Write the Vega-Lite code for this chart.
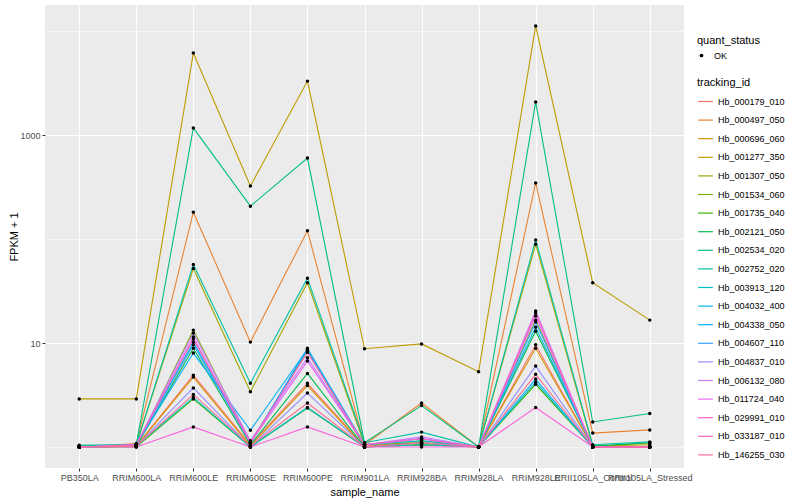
{
  "$schema": "https://vega.github.io/schema/vega-lite/v6.json",
  "autosize": {"type": "none"},
  "padding": {"left": 45, "top": 5, "right": 116, "bottom": 32},
  "width": 639,
  "height": 463,
  "background": "white",
  "config": {
    "font": "Liberation Sans",
    "view": {"fill": "#EBEBEB", "stroke": null},
    "axis": {
      "domain": false,
      "gridColor": "white",
      "tickColor": "#333333",
      "tickSize": 3,
      "labelColor": "#4D4D4D",
      "labelFontSize": 9,
      "labelFont": "Liberation Sans",
      "titleFont": "Liberation Sans",
      "titleFontSize": 11,
      "titleFontWeight": "normal",
      "titleColor": "black",
      "labelPadding": 2
    },
    "legend": {
      "titleFont": "Liberation Sans",
      "labelFont": "Liberation Sans",
      "titleFontSize": 11,
      "titleFontWeight": "normal",
      "titleColor": "black",
      "labelFontSize": 9,
      "labelColor": "black"
    }
  },
  "data": {"values": [
    {"id":"Hb_000179_010","sample":"PB350LA","fpkm":1.0,"status":"OK"},
    {"id":"Hb_000179_010","sample":"RRIM600LA","fpkm":1.02,"status":"OK"},
    {"id":"Hb_000179_010","sample":"RRIM600LE","fpkm":4.9,"status":"OK"},
    {"id":"Hb_000179_010","sample":"RRIM600SE","fpkm":1.05,"status":"OK"},
    {"id":"Hb_000179_010","sample":"RRIM600PE","fpkm":4.1,"status":"OK"},
    {"id":"Hb_000179_010","sample":"RRIM901LA","fpkm":1.02,"status":"OK"},
    {"id":"Hb_000179_010","sample":"RRIM928BA","fpkm":1.1,"status":"OK"},
    {"id":"Hb_000179_010","sample":"RRIM928LA","fpkm":1.0,"status":"OK"},
    {"id":"Hb_000179_010","sample":"RRIM928LE","fpkm":9.6,"status":"OK"},
    {"id":"Hb_000179_010","sample":"RRII105LA_Control","fpkm":1.0,"status":"OK"},
    {"id":"Hb_000179_010","sample":"RRII105LA_Stressed","fpkm":1.0,"status":"OK"},

    {"id":"Hb_000497_050","sample":"PB350LA","fpkm":1.0,"status":"OK"},
    {"id":"Hb_000497_050","sample":"RRIM600LA","fpkm":1.08,"status":"OK"},
    {"id":"Hb_000497_050","sample":"RRIM600LE","fpkm":181,"status":"OK"},
    {"id":"Hb_000497_050","sample":"RRIM600SE","fpkm":10.2,"status":"OK"},
    {"id":"Hb_000497_050","sample":"RRIM600PE","fpkm":120,"status":"OK"},
    {"id":"Hb_000497_050","sample":"RRIM901LA","fpkm":1.05,"status":"OK"},
    {"id":"Hb_000497_050","sample":"RRIM928BA","fpkm":2.65,"status":"OK"},
    {"id":"Hb_000497_050","sample":"RRIM928LA","fpkm":1.0,"status":"OK"},
    {"id":"Hb_000497_050","sample":"RRIM928LE","fpkm":346,"status":"OK"},
    {"id":"Hb_000497_050","sample":"RRII105LA_Control","fpkm":1.36,"status":"OK"},
    {"id":"Hb_000497_050","sample":"RRII105LA_Stressed","fpkm":1.46,"status":"OK"},

    {"id":"Hb_000696_060","sample":"PB350LA","fpkm":1.0,"status":"OK"},
    {"id":"Hb_000696_060","sample":"RRIM600LA","fpkm":1.02,"status":"OK"},
    {"id":"Hb_000696_060","sample":"RRIM600LE","fpkm":4.7,"status":"OK"},
    {"id":"Hb_000696_060","sample":"RRIM600SE","fpkm":1.02,"status":"OK"},
    {"id":"Hb_000696_060","sample":"RRIM600PE","fpkm":3.9,"status":"OK"},
    {"id":"Hb_000696_060","sample":"RRIM901LA","fpkm":1.0,"status":"OK"},
    {"id":"Hb_000696_060","sample":"RRIM928BA","fpkm":1.05,"status":"OK"},
    {"id":"Hb_000696_060","sample":"RRIM928LA","fpkm":1.0,"status":"OK"},
    {"id":"Hb_000696_060","sample":"RRIM928LE","fpkm":8.9,"status":"OK"},
    {"id":"Hb_000696_060","sample":"RRII105LA_Control","fpkm":1.0,"status":"OK"},
    {"id":"Hb_000696_060","sample":"RRII105LA_Stressed","fpkm":1.1,"status":"OK"},

    {"id":"Hb_001277_350","sample":"PB350LA","fpkm":2.9,"status":"OK"},
    {"id":"Hb_001277_350","sample":"RRIM600LA","fpkm":2.9,"status":"OK"},
    {"id":"Hb_001277_350","sample":"RRIM600LE","fpkm":6150,"status":"OK"},
    {"id":"Hb_001277_350","sample":"RRIM600SE","fpkm":324,"status":"OK"},
    {"id":"Hb_001277_350","sample":"RRIM600PE","fpkm":3300,"status":"OK"},
    {"id":"Hb_001277_350","sample":"RRIM901LA","fpkm":8.8,"status":"OK"},
    {"id":"Hb_001277_350","sample":"RRIM928BA","fpkm":9.8,"status":"OK"},
    {"id":"Hb_001277_350","sample":"RRIM928LA","fpkm":5.3,"status":"OK"},
    {"id":"Hb_001277_350","sample":"RRIM928LE","fpkm":11200,"status":"OK"},
    {"id":"Hb_001277_350","sample":"RRII105LA_Control","fpkm":38,"status":"OK"},
    {"id":"Hb_001277_350","sample":"RRII105LA_Stressed","fpkm":16.6,"status":"OK"},

    {"id":"Hb_001307_050","sample":"PB350LA","fpkm":1.0,"status":"OK"},
    {"id":"Hb_001307_050","sample":"RRIM600LA","fpkm":1.05,"status":"OK"},
    {"id":"Hb_001307_050","sample":"RRIM600LE","fpkm":52,"status":"OK"},
    {"id":"Hb_001307_050","sample":"RRIM600SE","fpkm":3.4,"status":"OK"},
    {"id":"Hb_001307_050","sample":"RRIM600PE","fpkm":38,"status":"OK"},
    {"id":"Hb_001307_050","sample":"RRIM901LA","fpkm":1.05,"status":"OK"},
    {"id":"Hb_001307_050","sample":"RRIM928BA","fpkm":1.1,"status":"OK"},
    {"id":"Hb_001307_050","sample":"RRIM928LA","fpkm":1.0,"status":"OK"},
    {"id":"Hb_001307_050","sample":"RRIM928LE","fpkm":89,"status":"OK"},
    {"id":"Hb_001307_050","sample":"RRII105LA_Control","fpkm":1.02,"status":"OK"},
    {"id":"Hb_001307_050","sample":"RRII105LA_Stressed","fpkm":1.05,"status":"OK"},

    {"id":"Hb_001534_060","sample":"PB350LA","fpkm":1.0,"status":"OK"},
    {"id":"Hb_001534_060","sample":"RRIM600LA","fpkm":1.02,"status":"OK"},
    {"id":"Hb_001534_060","sample":"RRIM600LE","fpkm":13.3,"status":"OK"},
    {"id":"Hb_001534_060","sample":"RRIM600SE","fpkm":1.1,"status":"OK"},
    {"id":"Hb_001534_060","sample":"RRIM600PE","fpkm":8.4,"status":"OK"},
    {"id":"Hb_001534_060","sample":"RRIM901LA","fpkm":1.0,"status":"OK"},
    {"id":"Hb_001534_060","sample":"RRIM928BA","fpkm":1.15,"status":"OK"},
    {"id":"Hb_001534_060","sample":"RRIM928LA","fpkm":1.0,"status":"OK"},
    {"id":"Hb_001534_060","sample":"RRIM928LE","fpkm":16.6,"status":"OK"},
    {"id":"Hb_001534_060","sample":"RRII105LA_Control","fpkm":1.0,"status":"OK"},
    {"id":"Hb_001534_060","sample":"RRII105LA_Stressed","fpkm":1.0,"status":"OK"},

    {"id":"Hb_001735_040","sample":"PB350LA","fpkm":1.0,"status":"OK"},
    {"id":"Hb_001735_040","sample":"RRIM600LA","fpkm":1.0,"status":"OK"},
    {"id":"Hb_001735_040","sample":"RRIM600LE","fpkm":2.9,"status":"OK"},
    {"id":"Hb_001735_040","sample":"RRIM600SE","fpkm":1.0,"status":"OK"},
    {"id":"Hb_001735_040","sample":"RRIM600PE","fpkm":2.37,"status":"OK"},
    {"id":"Hb_001735_040","sample":"RRIM901LA","fpkm":1.0,"status":"OK"},
    {"id":"Hb_001735_040","sample":"RRIM928BA","fpkm":1.05,"status":"OK"},
    {"id":"Hb_001735_040","sample":"RRIM928LA","fpkm":1.0,"status":"OK"},
    {"id":"Hb_001735_040","sample":"RRIM928LE","fpkm":4.0,"status":"OK"},
    {"id":"Hb_001735_040","sample":"RRII105LA_Control","fpkm":1.0,"status":"OK"},
    {"id":"Hb_001735_040","sample":"RRII105LA_Stressed","fpkm":1.0,"status":"OK"},

    {"id":"Hb_002121_050","sample":"PB350LA","fpkm":1.0,"status":"OK"},
    {"id":"Hb_002121_050","sample":"RRIM600LA","fpkm":1.02,"status":"OK"},
    {"id":"Hb_002121_050","sample":"RRIM600LE","fpkm":8.9,"status":"OK"},
    {"id":"Hb_002121_050","sample":"RRIM600SE","fpkm":1.05,"status":"OK"},
    {"id":"Hb_002121_050","sample":"RRIM600PE","fpkm":5.1,"status":"OK"},
    {"id":"Hb_002121_050","sample":"RRIM901LA","fpkm":1.0,"status":"OK"},
    {"id":"Hb_002121_050","sample":"RRIM928BA","fpkm":1.1,"status":"OK"},
    {"id":"Hb_002121_050","sample":"RRIM928LA","fpkm":1.0,"status":"OK"},
    {"id":"Hb_002121_050","sample":"RRIM928LE","fpkm":13.0,"status":"OK"},
    {"id":"Hb_002121_050","sample":"RRII105LA_Control","fpkm":1.02,"status":"OK"},
    {"id":"Hb_002121_050","sample":"RRII105LA_Stressed","fpkm":1.1,"status":"OK"},

    {"id":"Hb_002534_020","sample":"PB350LA","fpkm":1.04,"status":"OK"},
    {"id":"Hb_002534_020","sample":"RRIM600LA","fpkm":1.05,"status":"OK"},
    {"id":"Hb_002534_020","sample":"RRIM600LE","fpkm":1170,"status":"OK"},
    {"id":"Hb_002534_020","sample":"RRIM600SE","fpkm":207,"status":"OK"},
    {"id":"Hb_002534_020","sample":"RRIM600PE","fpkm":600,"status":"OK"},
    {"id":"Hb_002534_020","sample":"RRIM901LA","fpkm":1.1,"status":"OK"},
    {"id":"Hb_002534_020","sample":"RRIM928BA","fpkm":2.5,"status":"OK"},
    {"id":"Hb_002534_020","sample":"RRIM928LA","fpkm":1.0,"status":"OK"},
    {"id":"Hb_002534_020","sample":"RRIM928LE","fpkm":2080,"status":"OK"},
    {"id":"Hb_002534_020","sample":"RRII105LA_Control","fpkm":1.74,"status":"OK"},
    {"id":"Hb_002534_020","sample":"RRII105LA_Stressed","fpkm":2.1,"status":"OK"},

    {"id":"Hb_002752_020","sample":"PB350LA","fpkm":1.03,"status":"OK"},
    {"id":"Hb_002752_020","sample":"RRIM600LA","fpkm":1.05,"status":"OK"},
    {"id":"Hb_002752_020","sample":"RRIM600LE","fpkm":57,"status":"OK"},
    {"id":"Hb_002752_020","sample":"RRIM600SE","fpkm":4.1,"status":"OK"},
    {"id":"Hb_002752_020","sample":"RRIM600PE","fpkm":42,"status":"OK"},
    {"id":"Hb_002752_020","sample":"RRIM901LA","fpkm":1.1,"status":"OK"},
    {"id":"Hb_002752_020","sample":"RRIM928BA","fpkm":1.39,"status":"OK"},
    {"id":"Hb_002752_020","sample":"RRIM928LA","fpkm":1.0,"status":"OK"},
    {"id":"Hb_002752_020","sample":"RRIM928LE","fpkm":98,"status":"OK"},
    {"id":"Hb_002752_020","sample":"RRII105LA_Control","fpkm":1.05,"status":"OK"},
    {"id":"Hb_002752_020","sample":"RRII105LA_Stressed","fpkm":1.12,"status":"OK"},

    {"id":"Hb_003913_120","sample":"PB350LA","fpkm":1.0,"status":"OK"},
    {"id":"Hb_003913_120","sample":"RRIM600LA","fpkm":1.02,"status":"OK"},
    {"id":"Hb_003913_120","sample":"RRIM600LE","fpkm":3.0,"status":"OK"},
    {"id":"Hb_003913_120","sample":"RRIM600SE","fpkm":1.0,"status":"OK"},
    {"id":"Hb_003913_120","sample":"RRIM600PE","fpkm":2.4,"status":"OK"},
    {"id":"Hb_003913_120","sample":"RRIM901LA","fpkm":1.0,"status":"OK"},
    {"id":"Hb_003913_120","sample":"RRIM928BA","fpkm":1.05,"status":"OK"},
    {"id":"Hb_003913_120","sample":"RRIM928LA","fpkm":1.0,"status":"OK"},
    {"id":"Hb_003913_120","sample":"RRIM928LE","fpkm":4.2,"status":"OK"},
    {"id":"Hb_003913_120","sample":"RRII105LA_Control","fpkm":1.0,"status":"OK"},
    {"id":"Hb_003913_120","sample":"RRII105LA_Stressed","fpkm":1.0,"status":"OK"},

    {"id":"Hb_004032_400","sample":"PB350LA","fpkm":1.0,"status":"OK"},
    {"id":"Hb_004032_400","sample":"RRIM600LA","fpkm":1.05,"status":"OK"},
    {"id":"Hb_004032_400","sample":"RRIM600LE","fpkm":10.2,"status":"OK"},
    {"id":"Hb_004032_400","sample":"RRIM600SE","fpkm":1.08,"status":"OK"},
    {"id":"Hb_004032_400","sample":"RRIM600PE","fpkm":8.9,"status":"OK"},
    {"id":"Hb_004032_400","sample":"RRIM901LA","fpkm":1.05,"status":"OK"},
    {"id":"Hb_004032_400","sample":"RRIM928BA","fpkm":1.15,"status":"OK"},
    {"id":"Hb_004032_400","sample":"RRIM928LA","fpkm":1.0,"status":"OK"},
    {"id":"Hb_004032_400","sample":"RRIM928LE","fpkm":14.2,"status":"OK"},
    {"id":"Hb_004032_400","sample":"RRII105LA_Control","fpkm":1.0,"status":"OK"},
    {"id":"Hb_004032_400","sample":"RRII105LA_Stressed","fpkm":1.0,"status":"OK"},

    {"id":"Hb_004338_050","sample":"PB350LA","fpkm":1.0,"status":"OK"},
    {"id":"Hb_004338_050","sample":"RRIM600LA","fpkm":1.05,"status":"OK"},
    {"id":"Hb_004338_050","sample":"RRIM600LE","fpkm":8.0,"status":"OK"},
    {"id":"Hb_004338_050","sample":"RRIM600SE","fpkm":1.45,"status":"OK"},
    {"id":"Hb_004338_050","sample":"RRIM600PE","fpkm":8.7,"status":"OK"},
    {"id":"Hb_004338_050","sample":"RRIM901LA","fpkm":1.05,"status":"OK"},
    {"id":"Hb_004338_050","sample":"RRIM928BA","fpkm":1.2,"status":"OK"},
    {"id":"Hb_004338_050","sample":"RRIM928LA","fpkm":1.0,"status":"OK"},
    {"id":"Hb_004338_050","sample":"RRIM928LE","fpkm":4.5,"status":"OK"},
    {"id":"Hb_004338_050","sample":"RRII105LA_Control","fpkm":1.0,"status":"OK"},
    {"id":"Hb_004338_050","sample":"RRII105LA_Stressed","fpkm":1.0,"status":"OK"},

    {"id":"Hb_004607_110","sample":"PB350LA","fpkm":1.0,"status":"OK"},
    {"id":"Hb_004607_110","sample":"RRIM600LA","fpkm":1.05,"status":"OK"},
    {"id":"Hb_004607_110","sample":"RRIM600LE","fpkm":9.6,"status":"OK"},
    {"id":"Hb_004607_110","sample":"RRIM600SE","fpkm":1.1,"status":"OK"},
    {"id":"Hb_004607_110","sample":"RRIM600PE","fpkm":8.6,"status":"OK"},
    {"id":"Hb_004607_110","sample":"RRIM901LA","fpkm":1.05,"status":"OK"},
    {"id":"Hb_004607_110","sample":"RRIM928BA","fpkm":1.2,"status":"OK"},
    {"id":"Hb_004607_110","sample":"RRIM928LA","fpkm":1.0,"status":"OK"},
    {"id":"Hb_004607_110","sample":"RRIM928LE","fpkm":15.9,"status":"OK"},
    {"id":"Hb_004607_110","sample":"RRII105LA_Control","fpkm":1.0,"status":"OK"},
    {"id":"Hb_004607_110","sample":"RRII105LA_Stressed","fpkm":1.0,"status":"OK"},

    {"id":"Hb_004837_010","sample":"PB350LA","fpkm":1.0,"status":"OK"},
    {"id":"Hb_004837_010","sample":"RRIM600LA","fpkm":1.02,"status":"OK"},
    {"id":"Hb_004837_010","sample":"RRIM600LE","fpkm":3.7,"status":"OK"},
    {"id":"Hb_004837_010","sample":"RRIM600SE","fpkm":1.0,"status":"OK"},
    {"id":"Hb_004837_010","sample":"RRIM600PE","fpkm":3.3,"status":"OK"},
    {"id":"Hb_004837_010","sample":"RRIM901LA","fpkm":1.0,"status":"OK"},
    {"id":"Hb_004837_010","sample":"RRIM928BA","fpkm":1.1,"status":"OK"},
    {"id":"Hb_004837_010","sample":"RRIM928LA","fpkm":1.0,"status":"OK"},
    {"id":"Hb_004837_010","sample":"RRIM928LE","fpkm":6.0,"status":"OK"},
    {"id":"Hb_004837_010","sample":"RRII105LA_Control","fpkm":1.0,"status":"OK"},
    {"id":"Hb_004837_010","sample":"RRII105LA_Stressed","fpkm":1.0,"status":"OK"},

    {"id":"Hb_006132_080","sample":"PB350LA","fpkm":1.0,"status":"OK"},
    {"id":"Hb_006132_080","sample":"RRIM600LA","fpkm":1.05,"status":"OK"},
    {"id":"Hb_006132_080","sample":"RRIM600LE","fpkm":12.5,"status":"OK"},
    {"id":"Hb_006132_080","sample":"RRIM600SE","fpkm":1.15,"status":"OK"},
    {"id":"Hb_006132_080","sample":"RRIM600PE","fpkm":7.2,"status":"OK"},
    {"id":"Hb_006132_080","sample":"RRIM901LA","fpkm":1.05,"status":"OK"},
    {"id":"Hb_006132_080","sample":"RRIM928BA","fpkm":1.25,"status":"OK"},
    {"id":"Hb_006132_080","sample":"RRIM928LA","fpkm":1.0,"status":"OK"},
    {"id":"Hb_006132_080","sample":"RRIM928LE","fpkm":20.3,"status":"OK"},
    {"id":"Hb_006132_080","sample":"RRII105LA_Control","fpkm":1.0,"status":"OK"},
    {"id":"Hb_006132_080","sample":"RRII105LA_Stressed","fpkm":1.0,"status":"OK"},

    {"id":"Hb_011724_040","sample":"PB350LA","fpkm":1.0,"status":"OK"},
    {"id":"Hb_011724_040","sample":"RRIM600LA","fpkm":1.05,"status":"OK"},
    {"id":"Hb_011724_040","sample":"RRIM600LE","fpkm":11.4,"status":"OK"},
    {"id":"Hb_011724_040","sample":"RRIM600SE","fpkm":1.1,"status":"OK"},
    {"id":"Hb_011724_040","sample":"RRIM600PE","fpkm":6.7,"status":"OK"},
    {"id":"Hb_011724_040","sample":"RRIM901LA","fpkm":1.05,"status":"OK"},
    {"id":"Hb_011724_040","sample":"RRIM928BA","fpkm":1.2,"status":"OK"},
    {"id":"Hb_011724_040","sample":"RRIM928LA","fpkm":1.0,"status":"OK"},
    {"id":"Hb_011724_040","sample":"RRIM928LE","fpkm":18.2,"status":"OK"},
    {"id":"Hb_011724_040","sample":"RRII105LA_Control","fpkm":1.0,"status":"OK"},
    {"id":"Hb_011724_040","sample":"RRII105LA_Stressed","fpkm":1.0,"status":"OK"},

    {"id":"Hb_029991_010","sample":"PB350LA","fpkm":1.0,"status":"OK"},
    {"id":"Hb_029991_010","sample":"RRIM600LA","fpkm":1.0,"status":"OK"},
    {"id":"Hb_029991_010","sample":"RRIM600LE","fpkm":1.56,"status":"OK"},
    {"id":"Hb_029991_010","sample":"RRIM600SE","fpkm":1.0,"status":"OK"},
    {"id":"Hb_029991_010","sample":"RRIM600PE","fpkm":1.56,"status":"OK"},
    {"id":"Hb_029991_010","sample":"RRIM901LA","fpkm":1.0,"status":"OK"},
    {"id":"Hb_029991_010","sample":"RRIM928BA","fpkm":1.0,"status":"OK"},
    {"id":"Hb_029991_010","sample":"RRIM928LA","fpkm":1.0,"status":"OK"},
    {"id":"Hb_029991_010","sample":"RRIM928LE","fpkm":2.4,"status":"OK"},
    {"id":"Hb_029991_010","sample":"RRII105LA_Control","fpkm":1.0,"status":"OK"},
    {"id":"Hb_029991_010","sample":"RRII105LA_Stressed","fpkm":1.0,"status":"OK"},

    {"id":"Hb_033187_010","sample":"PB350LA","fpkm":1.0,"status":"OK"},
    {"id":"Hb_033187_010","sample":"RRIM600LA","fpkm":1.05,"status":"OK"},
    {"id":"Hb_033187_010","sample":"RRIM600LE","fpkm":10.9,"status":"OK"},
    {"id":"Hb_033187_010","sample":"RRIM600SE","fpkm":1.1,"status":"OK"},
    {"id":"Hb_033187_010","sample":"RRIM600PE","fpkm":8.1,"status":"OK"},
    {"id":"Hb_033187_010","sample":"RRIM901LA","fpkm":1.05,"status":"OK"},
    {"id":"Hb_033187_010","sample":"RRIM928BA","fpkm":1.2,"status":"OK"},
    {"id":"Hb_033187_010","sample":"RRIM928LA","fpkm":1.0,"status":"OK"},
    {"id":"Hb_033187_010","sample":"RRIM928LE","fpkm":19.4,"status":"OK"},
    {"id":"Hb_033187_010","sample":"RRII105LA_Control","fpkm":1.0,"status":"OK"},
    {"id":"Hb_033187_010","sample":"RRII105LA_Stressed","fpkm":1.0,"status":"OK"},

    {"id":"Hb_146255_030","sample":"PB350LA","fpkm":1.0,"status":"OK"},
    {"id":"Hb_146255_030","sample":"RRIM600LA","fpkm":1.02,"status":"OK"},
    {"id":"Hb_146255_030","sample":"RRIM600LE","fpkm":3.2,"status":"OK"},
    {"id":"Hb_146255_030","sample":"RRIM600SE","fpkm":1.02,"status":"OK"},
    {"id":"Hb_146255_030","sample":"RRIM600PE","fpkm":2.65,"status":"OK"},
    {"id":"Hb_146255_030","sample":"RRIM901LA","fpkm":1.0,"status":"OK"},
    {"id":"Hb_146255_030","sample":"RRIM928BA","fpkm":1.1,"status":"OK"},
    {"id":"Hb_146255_030","sample":"RRIM928LA","fpkm":1.0,"status":"OK"},
    {"id":"Hb_146255_030","sample":"RRIM928LE","fpkm":5.0,"status":"OK"},
    {"id":"Hb_146255_030","sample":"RRII105LA_Control","fpkm":1.0,"status":"OK"},
    {"id":"Hb_146255_030","sample":"RRII105LA_Stressed","fpkm":1.0,"status":"OK"}
  ]},
  "encoding": {
    "x": {
      "field": "sample", "type": "nominal", "title": "sample_name",
      "sort": ["PB350LA","RRIM600LA","RRIM600LE","RRIM600SE","RRIM600PE","RRIM901LA","RRIM928BA","RRIM928LA","RRIM928LE","RRII105LA_Control","RRII105LA_Stressed"],
      "scale": {"type": "point", "padding": 0.6},
      "axis": {"labelAngle": 0, "labelOverlap": false, "labelFlush": false, "grid": true, "gridWidth": 1.1, "titlePadding": 4, "labelLimit": 0}
    },
    "y": {
      "field": "fpkm", "type": "quantitative", "title": "FPKM + 1",
      "scale": {"type": "log", "domain": [0.628, 17800], "nice": false, "zero": false},
      "axis": {
        "values": [1, 10, 100, 1000, 10000],
        "format": "d",
        "labelExpr": "datum.value == 10 || datum.value == 1000 ? datum.label : ''",
        "gridWidth": {"condition": {"test": "datum.value == 10 || datum.value == 1000", "value": 1.1}, "value": 0.55},
        "tickOpacity": {"condition": {"test": "datum.value == 10 || datum.value == 1000", "value": 1}, "value": 0},
        "titlePadding": 0
      }
    }
  },
  "layer": [
    {
      "mark": {"type": "line", "strokeWidth": 1.1},
      "encoding": {
        "stroke": {
          "field": "id", "type": "nominal", "title": "tracking_id",
          "scale": {"range": ["#F8766D","#EA8331","#D89000","#C09B00","#A3A500","#7CAE00","#39B600","#00BB4E","#00BF7D","#00C1A3","#00BFC4","#00BAE0","#00B0F6","#35A2FF","#9590FF","#C77CFF","#E76BF3","#FA62DB","#FF62BC","#FF6C91"]},
          "legend": {"orient": "none", "legendX": 652, "legendY": 72, "symbolType": "stroke", "symbolSize": 220, "symbolStrokeWidth": 1.2, "rowPadding": 4.6, "labelOffset": 4}
        },
        "detail": {"field": "id"}
      }
    },
    {
      "mark": {"type": "circle", "size": 12, "opacity": 1},
      "encoding": {
        "fill": {
          "field": "status", "type": "nominal", "title": "quant_status",
          "scale": {"range": ["black"]},
          "legend": {"orient": "none", "legendX": 652, "legendY": 30, "symbolType": "circle", "symbolSize": 14, "labelOffset": 8}
        }
      }
    }
  ]
}
